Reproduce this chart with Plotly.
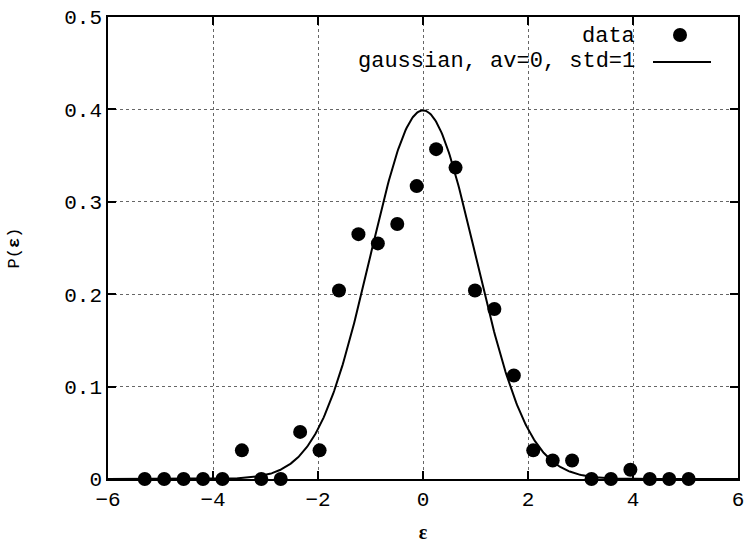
import numpy as np
import plotly.graph_objects as go

# data
eps = [-5.30, -4.93, -4.56, -4.19, -3.82, -3.45, -3.08, -2.71, -2.34, -1.97,
       -1.60, -1.23, -0.86, -0.49, -0.12, 0.25, 0.62, 0.99, 1.36, 1.73,
       2.10, 2.47, 2.84, 3.21, 3.58, 3.95, 4.32, 4.69, 5.06]
prob = [0, 0, 0, 0, 0, 0.031, 0, 0, 0.051, 0.031,
        0.204, 0.265, 0.255, 0.276, 0.317, 0.357, 0.337, 0.204, 0.184, 0.112,
        0.031, 0.020, 0.020, 0, 0, 0.010, 0, 0, 0]

# gaussian reference parameters
av = 0.0
std = 1.0
x_tick_vals = [-6, -4, -2, 0, 2, 4, 6]
y_tick_vals = [0, 0.1, 0.2, 0.3, 0.4, 0.5]
y_tick_text = ["0", "0.1", "0.2", "0.3", "0.4", "0.5"]

xc = np.linspace(-6, 6, 600)
yc = np.exp(-0.5 * ((xc - av) / std) ** 2) / (std * np.sqrt(2 * np.pi))

FONT = "Liberation Mono"

fig = go.Figure()
fig.add_trace(go.Scatter(x=xc, y=yc, mode="lines",
                         line=dict(color="black", width=2),
                         name="gaussian, av=0, std=1", showlegend=False,
                         cliponaxis=True))
fig.add_trace(go.Scatter(x=eps, y=prob, mode="markers",
                         marker=dict(color="black", size=14),
                         name="data", showlegend=False, cliponaxis=False))

axis_common = dict(showline=True, linecolor="black", linewidth=1.5, mirror="ticks",
                   ticks="inside", ticklen=8, tickwidth=1.5, tickcolor="black",
                   showgrid=True, gridcolor="#666", griddash="dot", gridwidth=1,
                   zeroline=False, automargin=False,
                   tickfont=dict(family=FONT, size=21, color="black"))

fig.update_xaxes(range=[-6, 6], tickvals=x_tick_vals,
                 title=dict(text="<b>ε</b>", font=dict(family="Liberation Serif", size=20, color="black"),
                            standoff=15),
                 **axis_common)
fig.update_yaxes(range=[0, 0.5], tickvals=y_tick_vals, ticktext=y_tick_text,
                 title=dict(text="P(<b>ε</b>)", font=dict(family=FONT, size=17, color="black"),
                            standoff=40),
                 **axis_common)

# legend (text right, sample on the right, as in the original)
W, H = 630, 462
fig.add_annotation(xref="paper", yref="paper", x=(637 - 108) / W, y=(479 - 37) / H,
                   xanchor="right", yanchor="middle",
                   text="data", showarrow=False, font=dict(family=FONT, size=22, color="black"))
fig.add_annotation(xref="paper", yref="paper", x=(637 - 108) / W, y=(479 - 62) / H,
                   xanchor="right", yanchor="middle",
                   text="gaussian, av=0, std=1", showarrow=False,
                   font=dict(family=FONT, size=22, color="black"))
fig.add_shape(type="circle", xref="paper", yref="paper",
              x0=(673 - 108) / W, x1=(687 - 108) / W,
              y0=(479 - 42) / H, y1=(479 - 28) / H,
              fillcolor="black", line=dict(color="black", width=0))
fig.add_shape(type="line", xref="paper", yref="paper",
              x0=(653 - 108) / W, x1=(711 - 108) / W,
              y0=(479 - 62) / H, y1=(479 - 62) / H,
              line=dict(color="black", width=2))

fig.update_layout(width=747, height=543,
                  margin=dict(l=108, r=9, t=17, b=64),
                  plot_bgcolor="white", paper_bgcolor="white",
                  showlegend=False)

fig.write_html("out.html")
